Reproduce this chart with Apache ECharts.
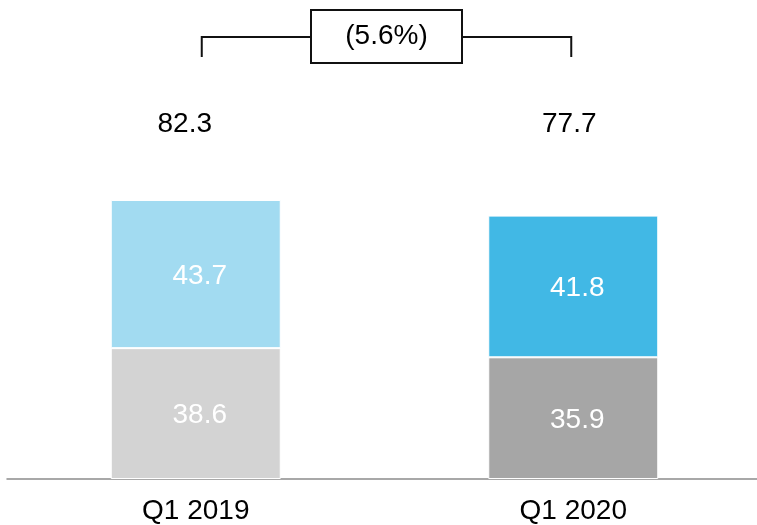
<!DOCTYPE html>
<html>
<head>
<meta charset="utf-8">
<script src="https://cdn.jsdelivr.net/npm/echarts@6/dist/echarts.min.js"></script>
<style>
  html, body { margin: 0; padding: 0; background: #fff; overflow: hidden; }
  /* a bit wider than the window so the axis runs off the right edge */
  #chart { width: 762px; height: 525px; }
</style>
</head>
<body>
<div id="chart"></div>
<script>
// data
const categories = ['Q1 2019', 'Q1 2020']
const bottomValues = [38.6, 35.9]
const topValues = [43.7, 41.8]
const totals = [82.3, 77.7]
const changeLabel = '(5.6%)'

const bottomColors = ['#d3d3d3', '#a6a6a6']
const topColors = ['#a2dbf1', '#41b8e5']
const totalShift = [-11, -4]  // totals are not quite centred over the bars
const totalsLevel = 104.7  // where the total labels sit (axis units)
const font = "'Liberation Sans', Arial, sans-serif"

const chart = echarts.init(document.getElementById('chart'))

const segLabel = { show: true, position: 'inside', offset: [4, 2], color: '#fff', fontSize: 28, fontFamily: font }

const option = {
  animation: false,
  grid: { left: 7, right: 0, top: 38.3, bottom: 46 },
  xAxis: {
    type: 'category',
    data: categories,
    axisTick: { show: false },
    axisLine: { lineStyle: { color: '#8c8c8c', width: 1.5 } },
    axisLabel: { color: '#000', fontSize: 28, fontFamily: font, margin: 18 }
  },
  yAxis: {
    type: 'value',
    min: 0,
    max: 130,
    show: false
  },
  series: [
    {
      type: 'bar',
      stack: 'total',
      barWidth: 170,
      data: bottomValues.map((v, i) => ({ value: v, itemStyle: { color: bottomColors[i] } })),
      itemStyle: { borderColor: '#fff', borderWidth: 1 },
      label: segLabel
    },
    {
      type: 'bar',
      stack: 'total',
      barWidth: 170,
      data: topValues.map((v, i) => ({ value: v, itemStyle: { color: topColors[i] } })),
      itemStyle: { borderColor: '#fff', borderWidth: 1 },
      label: segLabel
    },
    {
      // totals above the bars
      type: 'scatter',
      symbolSize: 0,
      clip: false,
      silent: true,
      itemStyle: { opacity: 1 },
      data: totals.map((t, i) => ({ value: [categories[i], totalsLevel], label: { offset: [totalShift[i], 0] } })),
      label: {
        show: true,
        position: 'inside',
        color: '#000',
        fontSize: 28,
        fontFamily: font,
        formatter: p => totals[p.dataIndex].toFixed(1)
      }
    }
  ]
}
chart.setOption(option)

// bracket with the change between the two quarters
const x1 = chart.convertToPixel({ xAxisIndex: 0 }, categories[0]) + 6
const x2 = chart.convertToPixel({ xAxisIndex: 0 }, categories[1]) - 2
const mid = (x1 + x2) / 2
const boxW = 151, boxTop = 10, boxH = 53, lineY = 37, tickY = 57
const lineStyle = { stroke: '#111', lineWidth: 2, fill: null }

chart.setOption({
  graphic: [
    { type: 'polyline', shape: { points: [[x1, tickY], [x1, lineY], [mid - boxW / 2, lineY]] }, style: lineStyle },
    { type: 'polyline', shape: { points: [[mid + boxW / 2, lineY], [x2, lineY], [x2, tickY]] }, style: lineStyle },
    { type: 'rect', shape: { x: mid - boxW / 2, y: boxTop, width: boxW, height: boxH }, style: { stroke: '#111', lineWidth: 2, fill: '#fff' } },
    {
      type: 'text',
      x: mid,
      y: boxTop + boxH / 2,
      style: { text: changeLabel, fill: '#000', fontSize: 28, fontFamily: font, align: 'center', verticalAlign: 'middle' }
    }
  ]
})
</script>
</body>
</html>
